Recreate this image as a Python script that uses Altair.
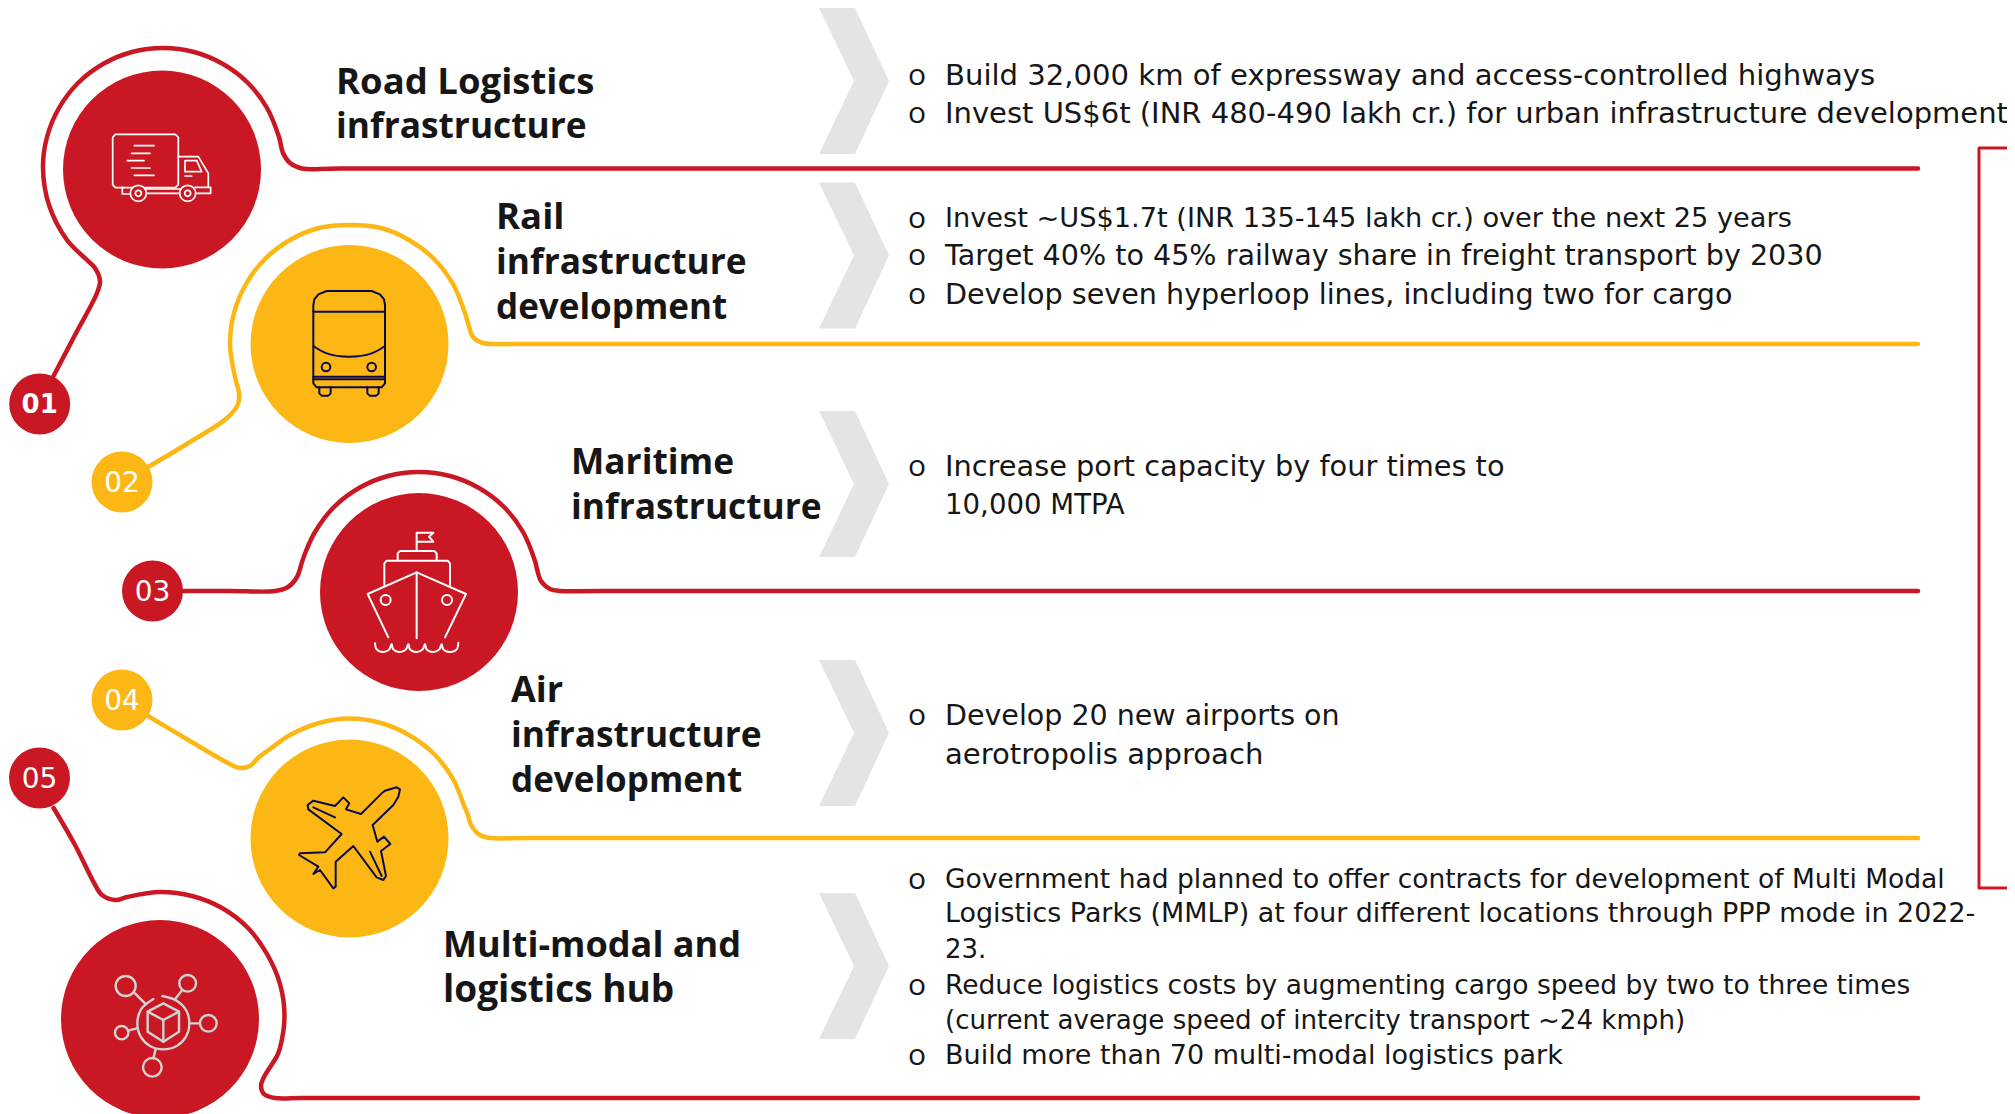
import altair as alt
import pandas as pd

RED = "#C91823"
YEL = "#FDB714"
NAVY = "#0A0A4A"
GREY = "#E4E4E4"
HUB = "#D2D2D2"
INK = "#161616"

CIRCLES = [("01", 162, 169.5, RED), ("02", 349.5, 344, YEL), ("03", 419, 592, RED),
           ("04", 349.5, 838.5, YEL), ("05", 160, 1019, RED)]
BADGES = [("01", 39.7, 404, RED), ("02", 122, 482, YEL), ("03", 152.5, 591, RED),
          ("04", 122, 700, YEL), ("05", 39.5, 778, RED)]

PATH1 = [(53, 377), (75, 335), (97, 293), (100, 281), (95, 268), (87, 260), (67, 240), (49, 205), (43, 168),
         (47, 137), (59, 108), (78, 83), (103, 64), (132, 52), (163, 48), (194, 52), (223, 64), (248, 83),
         (267, 108), (279, 137), (283, 153), (290, 163), (302, 168.5), (340, 168.5), (1918, 168.5)]
PATH2 = [(148, 467), (190, 442), (227, 418), (238, 404), (239, 393), (235, 377), (230, 344), (234, 313), (246, 284),
         (265, 259), (290, 240), (319, 228), (349.5, 225), (381, 228), (409, 240), (434, 259), (453, 284),
         (465, 313), (468, 323), (473, 337), (483, 343), (495, 344), (530, 344), (1918, 344)]
PATH3 = [(183, 591), (230, 591), (275, 591), (288, 587), (297, 577), (302, 562), (306, 551), (315, 532), (334, 507),
         (359, 488), (388, 476), (419, 472), (450, 476), (479, 488), (504, 507), (523, 532), (535, 561),
         (537, 569), (541, 581), (550, 589), (560, 591), (600, 591), (1918, 591)]
PATH4 = [(148, 716), (190, 741), (228, 763), (240, 768), (250, 766), (259, 757), (270, 749), (290, 735), (319, 723),
         (349.5, 718.5), (381, 723), (409, 735), (434, 754), (453, 779), (465, 808), (468, 815), (471, 825),
         (480, 835), (491, 838), (530, 838), (1918, 838)]
PATH5 = [(53.6, 808), (75, 845), (94.6, 884), (102, 895), (116, 900), (127, 897), (160, 892), (192, 896), (222, 908),
         (248, 928), (267, 954), (280, 984), (284.5, 1016), (280, 1048), (277, 1056), (264, 1077), (261, 1086),
         (264, 1094), (275, 1098), (300, 1098), (340, 1098), (1918, 1098)]
FRAME = [(2015, 148), (1979, 148), (1979, 888), (2015, 888)]

CHEVRON_X = [854, 854, 854, 854, 854]
CHEVRON_MIDS = [81, 255.5, 484, 733, 966]
CHEVRON_SHAPE = "M -0.479 -1 L 0.014 -1 L 0.479 0 L 0.014 1 L -0.479 1 L 0 0 Z"

HEADINGS = [
    ("Road Logistics", 336, 81, 36.5), ("infrastructure", 336, 125, 35.3),
    ("Rail", 496, 216, 36.5), ("infrastructure", 496, 261, 35.3), ("development", 496, 306, 35),
    ("Maritime", 571, 461, 35.3), ("infrastructure", 571, 506, 35.3),
    ("Air", 511, 689, 36), ("infrastructure", 511, 734, 35.3), ("development", 511, 779, 35),
    ("Multi-modal and", 443, 944, 36.1), ("logistics hub", 443, 989, 37),
]
BODY = [
    ("Build 32,000 km of expressway and access-controlled highways", 74.5, 29.1),
    ("Invest US$6t (INR 480-490 lakh cr.) for urban infrastructure development", 112, 29),
    ("Invest ~US$1.7t (INR 135-145 lakh cr.) over the next 25 years", 217, 27.2),
    ("Target 40% to 45% railway share in freight transport by 2030", 254.5, 28.6),
    ("Develop seven hyperloop lines, including two for cargo", 293, 28.6),
    ("Increase port capacity by four times to", 465, 28.8),
    ("10,000 MTPA", 504, 27.6),
    ("Develop 20 new airports on", 714.5, 28.5),
    ("aerotropolis approach", 753, 29.1),
]
SMALL = [
    ("Government had planned to offer contracts for development of Multi Modal", 878, 26.5),
    ("Logistics Parks (MMLP) at four different locations through PPP mode in 2022-", 912.5, 26.9),
    ("23.", 948, 26),
    ("Reduce logistics costs by augmenting cargo speed by two to three times", 984, 26.5),
    ("(current average speed of intercity transport ~24 kmph)", 1019, 26.1),
    ("Build more than 70 multi-modal logistics park", 1054, 27),
]
BULLETS = [74.5, 112, 217, 254.5, 293, 465, 714.5, 878, 984, 1054]

# Icon strokes, in 3x-crop units, with the crop origin (x0, y0)
TRUCK = (90, 110, [
    [(68, 82), (76, 73), (256, 73), (265, 82), (265, 224), (256, 233), (76, 233), (68, 224), (68, 82)],
    [(133, 107), (192, 107)], [(125, 130), (180, 130)], [(112, 152), (162, 152)],
    [(125, 174), (180, 174)], [(133, 196), (192, 196)],
    [(265, 140), (325, 140), (355, 190), (355, 232)],
    [(285, 152), (320, 152), (335, 185), (285, 185), (285, 152)], [(285, 198), (305, 198)],
    [(97, 232), (97, 252), (125, 252)], [(165, 237), (270, 237)], [(165, 250), (270, 250)],
    [(315, 232), (362, 232), (362, 250), (318, 250)],
])
TRUCK_WHEELS = (90, 110, [(145, 250, 48), (145, 250, 18), (293, 250, 48), (293, 250, 18)])
BUS = (290, 270, [
    [(70, 105), (73, 88), (85, 73), (110, 63), (245, 63), (270, 73), (282, 88), (285, 105), (285, 340), (275, 352),
     (80, 352), (70, 340), (70, 105)],
    [(70, 125), (285, 125)], [(70, 320), (285, 320)], [(70, 328), (285, 328)],
    [(88, 352), (88, 370), (95, 377), (115, 377), (122, 370), (122, 352)],
    [(232, 352), (232, 370), (239, 377), (259, 377), (266, 370), (266, 352)],
])
BUS_CURVE = (290, 270, [[(70, 228), (110, 250), (177, 260), (245, 250), (285, 228)]])
BUS_DOTS = (290, 270, [(108, 291, 26), (245, 291, 26)])
SHIP = (350, 520, [
    [(200, 90), (200, 38), (250, 38), (237, 50), (250, 65), (200, 65)],
    [(143, 120), (143, 100), (150, 93), (253, 93), (260, 100), (260, 120)],
    [(103, 195), (103, 130), (110, 122), (293, 122), (300, 130), (300, 195)],
    [(115, 352), (53, 222), (200, 157), (348, 222), (285, 352)],
    [(200, 157), (200, 355)],
])
SHIP_CURVE = (350, 520, [[(75, 370), (80, 388), (100, 396), (118, 388), (125, 372), (130, 388), (150, 396), (168, 388),
                          (175, 372), (180, 388), (200, 396), (218, 388), (225, 372), (230, 388), (250, 396),
                          (268, 388), (275, 372), (280, 388), (300, 396), (320, 388), (325, 368)]])
SHIP_DOTS = (350, 520, [(107, 240, 30), (291, 240, 30)])
PLANE = (285, 770, [
    [(345, 58), (335, 52), (300, 62), (290, 70), (228, 132), (183, 118), (193, 100), (175, 82), (150, 108), (85, 92),
     (68, 105), (70, 118), (170, 192), (120, 247), (45, 250), (42, 255), (100, 290), (85, 312), (105, 300), (145, 355),
     (152, 350), (152, 275), (205, 228), (275, 322), (295, 330), (303, 318), (288, 243), (316, 222), (297, 200),
     (277, 215), (263, 165), (325, 105), (340, 80), (345, 58)],
    [(85, 112), (150, 142)], [(255, 245), (290, 318)],
])
HUB_LINES = (100, 960, [
    [(190, 130), (237, 155), (237, 215), (190, 245), (143, 215), (143, 155), (190, 130)],
    [(143, 155), (190, 180), (237, 155)], [(190, 180), (190, 245)],
    [(105, 100), (135, 130)], [(245, 92), (225, 118)], [(270, 190), (298, 190)],
    [(85, 212), (110, 205)], [(167, 268), (160, 295)],
])
HUB_CURVE = (100, 960, [[(187, 108), (230, 122), (258, 150), (268, 190), (258, 230), (230, 258), (190, 268), (150, 258),
                         (122, 230), (112, 190), (122, 150), (135, 135), (160, 117)]])
HUB_DOTS = (100, 960, [(77, 78, 60), (263, 70, 50), (325, 190, 50), (65, 218, 40), (157, 322, 56)])

X = alt.Scale(domain=[8, 2007], range=[0, 1999], nice=False, zero=False)
Y = alt.Scale(domain=[8, 1114], range=[0, 1106], nice=False, zero=False)
ex = alt.X("x:Q", scale=X, axis=None)
ey = alt.Y("y:Q", scale=Y, axis=None)


def paths_df(paths):
    rows = []
    for g, pts in enumerate(paths):
        for i, (x, y) in enumerate(pts):
            rows.append({"g": g, "i": i, "x": x, "y": y})
    return pd.DataFrame(rows)


def place(icon):
    x0, y0, strokes = icon
    return [[(x0 + x / 3, y0 + y / 3) for x, y in s] for s in strokes]


def lines(paths, color, width, interp="linear"):
    return alt.Chart(paths_df(paths)).mark_line(
        color=color, strokeWidth=width, interpolate=interp, strokeCap="round", strokeJoin="round", clip=False
    ).encode(x=ex, y=ey, detail="g:N", order=alt.Order("i:Q"))


def rings(icon, stroke, width, fill=None):
    x0, y0, pts = icon
    df = pd.DataFrame([{"x": x0 + x / 3, "y": y0 + y / 3, "s": (d / 3) ** 2} for x, y, d in pts])
    kw = {"fill": fill, "filled": True} if fill else {"filled": False}
    return alt.Chart(df).mark_point(stroke=stroke, strokeWidth=width, opacity=1, **kw).encode(
        x=ex, y=ey, size=alt.Size("s:Q", scale=None, legend=None))


def discs(items, diameter):
    df = pd.DataFrame([{"n": n, "x": x, "y": y, "c": c} for n, x, y, c in items])
    return alt.Chart(df).mark_circle(size=diameter ** 2, opacity=1).encode(
        x=ex, y=ey, color=alt.Color("c:N", scale=None, legend=None))


def texts(rows, font, weight, color=INK, align="left", dy=0.0):
    df = pd.DataFrame(rows, columns=["t", "x", "y", "s"])
    return alt.Chart(df).mark_text(font=font, fontWeight=weight, color=color,
                                   align=align, baseline="middle", dy=dy).encode(
        x=ex, y=ey, text="t:N", size=alt.Size("s:Q", scale=None, legend=None))


chevrons = alt.Chart(pd.DataFrame({"x": CHEVRON_X, "y": CHEVRON_MIDS})).mark_point(
    shape=CHEVRON_SHAPE, size=146 ** 2, filled=True, fill=GREY, strokeWidth=0, opacity=1
).encode(x=ex, y=ey)

layers = [
    chevrons,
    lines([PATH1, PATH3, PATH5], RED, 4.5, "catmull-rom"),
    lines([PATH2, PATH4], YEL, 4.5, "catmull-rom"),
    lines([FRAME], RED, 3),
    discs(CIRCLES, 198),
    discs(BADGES, 61),
    lines(place(TRUCK), "white", 1.7),
    rings(TRUCK_WHEELS, "white", 1.7, RED),
    lines(place(BUS), NAVY, 2),
    lines(place(BUS_CURVE), NAVY, 2, "catmull-rom"),
    rings(BUS_DOTS, NAVY, 2),
    lines(place(SHIP), "white", 2),
    lines(place(SHIP_CURVE), "white", 2, "catmull-rom"),
    rings(SHIP_DOTS, "white", 2),
    lines(place(PLANE), NAVY, 2),
    lines(place(HUB_LINES), HUB, 2.4),
    lines(place(HUB_CURVE), HUB, 2.4, "catmull-rom"),
    rings(HUB_DOTS, HUB, 2.4),
    texts([(n, x, y, 26) for n, x, y, _ in BADGES[:1]], "DejaVu Sans", 700, "white", "center", dy=1),
    texts([(n, x, y, 28) for n, x, y, _ in BADGES[1:]], "DejaVu Sans", 400, "white", "center", dy=2),
    texts(HEADINGS, "Open Sans", 700, dy=2.3),
    texts([(t, 945, y, s) for t, y, s in BODY], "DejaVu Sans", 400, dy=1.5),
    texts([(t, 945, y, s) for t, y, s in SMALL], "DejaVu Sans", 400, dy=1.5),
    texts([("o", 917, y, 30) for y in BULLETS], "Open Sans", 400, align="center", dy=1.5),
]

chart = alt.layer(*layers).properties(
    width=1999, height=1106, padding=0, autosize=alt.AutoSizeParams(type="none"), background="white"
).configure_view(stroke=None)

chart.save("out.html", embed_options={"renderer": "svg", "actions": False})
